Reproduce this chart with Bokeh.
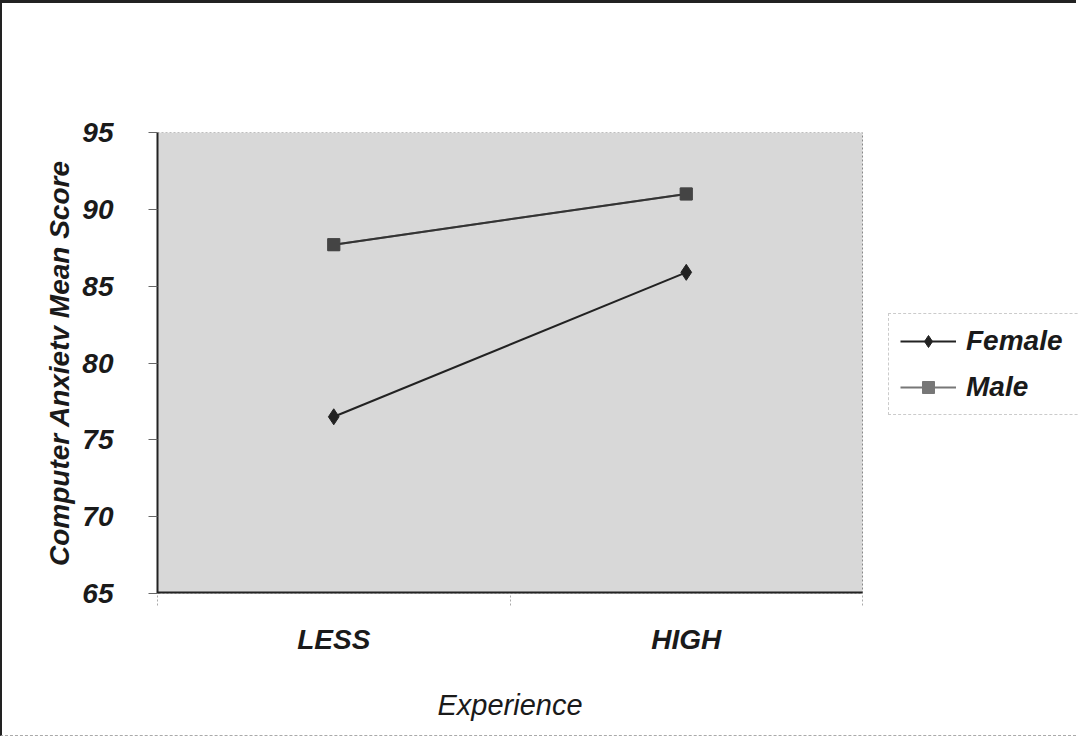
from bokeh.plotting import figure
from bokeh.models import FixedTicker, Legend, LegendItem, Range1d, LinearAxis
from bokeh.embed import file_html
from bokeh.resources import INLINE

# ---- data ----
categories = ["LESS", "HIGH"]
female = [76.5, 85.9]
male = [87.7, 91.0]
y_ticks = [65, 70, 75, 80, 85, 90, 95]
x_title = "Experience"
y_title = "Computer Anxietv Mean Score"
series_names = ["Female", "Male"]

FONT = "Liberation Sans"

n = len(categories)
x_pos = [i + 0.5 for i in range(n)]
boundaries = list(range(n + 1))
y0, y1 = y_ticks[0], y_ticks[-1]

# layout (pixels)
W, H = 1076, 736
LEFT, TOP, BOTTOM = 155, 129, 146
PLOT_W = 705  # width of the grey plot area
frame_w = W - LEFT
x_end = n * frame_w / PLOT_W

p = figure(
    width=W, height=H,
    x_range=Range1d(0, x_end), y_range=Range1d(y0, y1),
    output_backend="svg", toolbar_location=None,
    min_border_left=LEFT, min_border_right=0, min_border_top=TOP, min_border_bottom=BOTTOM,
)
p.styles = {"border-left": "2px solid #222", "border-top": "3px solid #222",
            "border-bottom": "1px dashed #aaa"}

p.background_fill_color = "white"
p.border_fill_color = "white"
p.outline_line_color = None
p.xgrid.visible = False
p.ygrid.visible = False

# grey plot area with dotted top/right edge
p.quad(left=[0], right=[n], bottom=[y0], top=[y1],
       fill_color="#d8d8d8", line_color="#888888", line_dash="2 2", line_width=1)
# x axis line across the plot area only
p.segment(x0=[0], y0=[y0], x1=[n], y1=[y0], line_color="#222222", line_width=4)

# x axis (category labels)
xa = p.xaxis[0]
xa.ticker = FixedTicker(ticks=x_pos, minor_ticks=boundaries)
xa.major_label_overrides = {x: c for x, c in zip(x_pos, categories)}
xa.axis_line_color = None
xa.major_tick_out = 0
xa.major_tick_in = 0
xa.minor_tick_out = 12
xa.minor_tick_in = 0
xa.minor_tick_line_color = "#aaaaaa"
xa.minor_tick_line_dash = "2 2"
xa.major_label_text_font = FONT
xa.major_label_text_font_style = "bold italic"
xa.major_label_text_font_size = "28px"
xa.major_label_text_color = "#1a1a1a"
xa.major_label_standoff = 18

# second axis below carrying the x title, centred on the plot area
xt = LinearAxis(
    ticker=FixedTicker(ticks=[n / 2]),
    major_label_overrides={n / 2: x_title},
    axis_line_color=None, major_tick_line_color=None, minor_tick_line_color=None,
    major_label_text_font=FONT, major_label_text_font_style="italic",
    major_label_text_font_size="29px", major_label_text_color="#1a1a1a",
    major_label_standoff=25,
)
p.add_layout(xt, "below")

# y axis
ya = p.yaxis[0]
ya.ticker = FixedTicker(ticks=y_ticks)
ya.major_tick_out = 9
ya.major_tick_in = 0
ya.major_tick_line_color = "#666666"
ya.minor_tick_line_color = None
ya.axis_line_color = "#222222"
ya.axis_line_width = 2
ya.major_label_text_font = FONT
ya.major_label_text_font_style = "bold italic"
ya.major_label_text_font_size = "28px"
ya.major_label_text_color = "#1a1a1a"
ya.major_label_standoff = 35
ya.axis_label = y_title
ya.axis_label_text_font = FONT
ya.axis_label_text_font_style = "bold italic"
ya.axis_label_text_font_size = "28px"
ya.axis_label_text_color = "#1a1a1a"
ya.axis_label_standoff = 4

# series (Male legend glyph is lighter grey in the reference: grey copy drawn underneath)
lm_line = p.line(x_pos, male, line_color="#777777", line_width=2)
lm_mark = p.scatter(x_pos, male, marker="square", size=12, fill_color="#777777", line_color="#777777")
fl = p.line(x_pos, female, line_color="#222222", line_width=2)
fm = p.scatter(x_pos, female, marker="diamond", size=16, fill_color="#222222", line_color="#222222")
ml = p.line(x_pos, male, line_color="#333333", line_width=2)
mm = p.scatter(x_pos, male, marker="square", size=12, fill_color="#444444", line_color="#444444")

legend = Legend(
    items=[LegendItem(label=series_names[0], renderers=[fl, fm]),
           LegendItem(label=series_names[1], renderers=[lm_line, lm_mark])],
    location=(PLOT_W + 26, 178),
    orientation="vertical",
)
legend.label_text_font = FONT
legend.label_text_font_style = "bold italic"
legend.label_text_font_size = "28px"
legend.label_text_color = "#1a1a1a"
legend.glyph_width = 56
legend.glyph_height = 30
legend.label_standoff = 10
legend.label_width = 150
legend.spacing = 14
legend.padding = 11
legend.margin = 0
legend.border_line_color = "#999999"
legend.border_line_dash = "2 2"
legend.border_line_width = 1
legend.background_fill_color = "white"
legend.background_fill_alpha = 1.0
p.add_layout(legend)

open("out.html", "w").write(file_html(p, INLINE))
